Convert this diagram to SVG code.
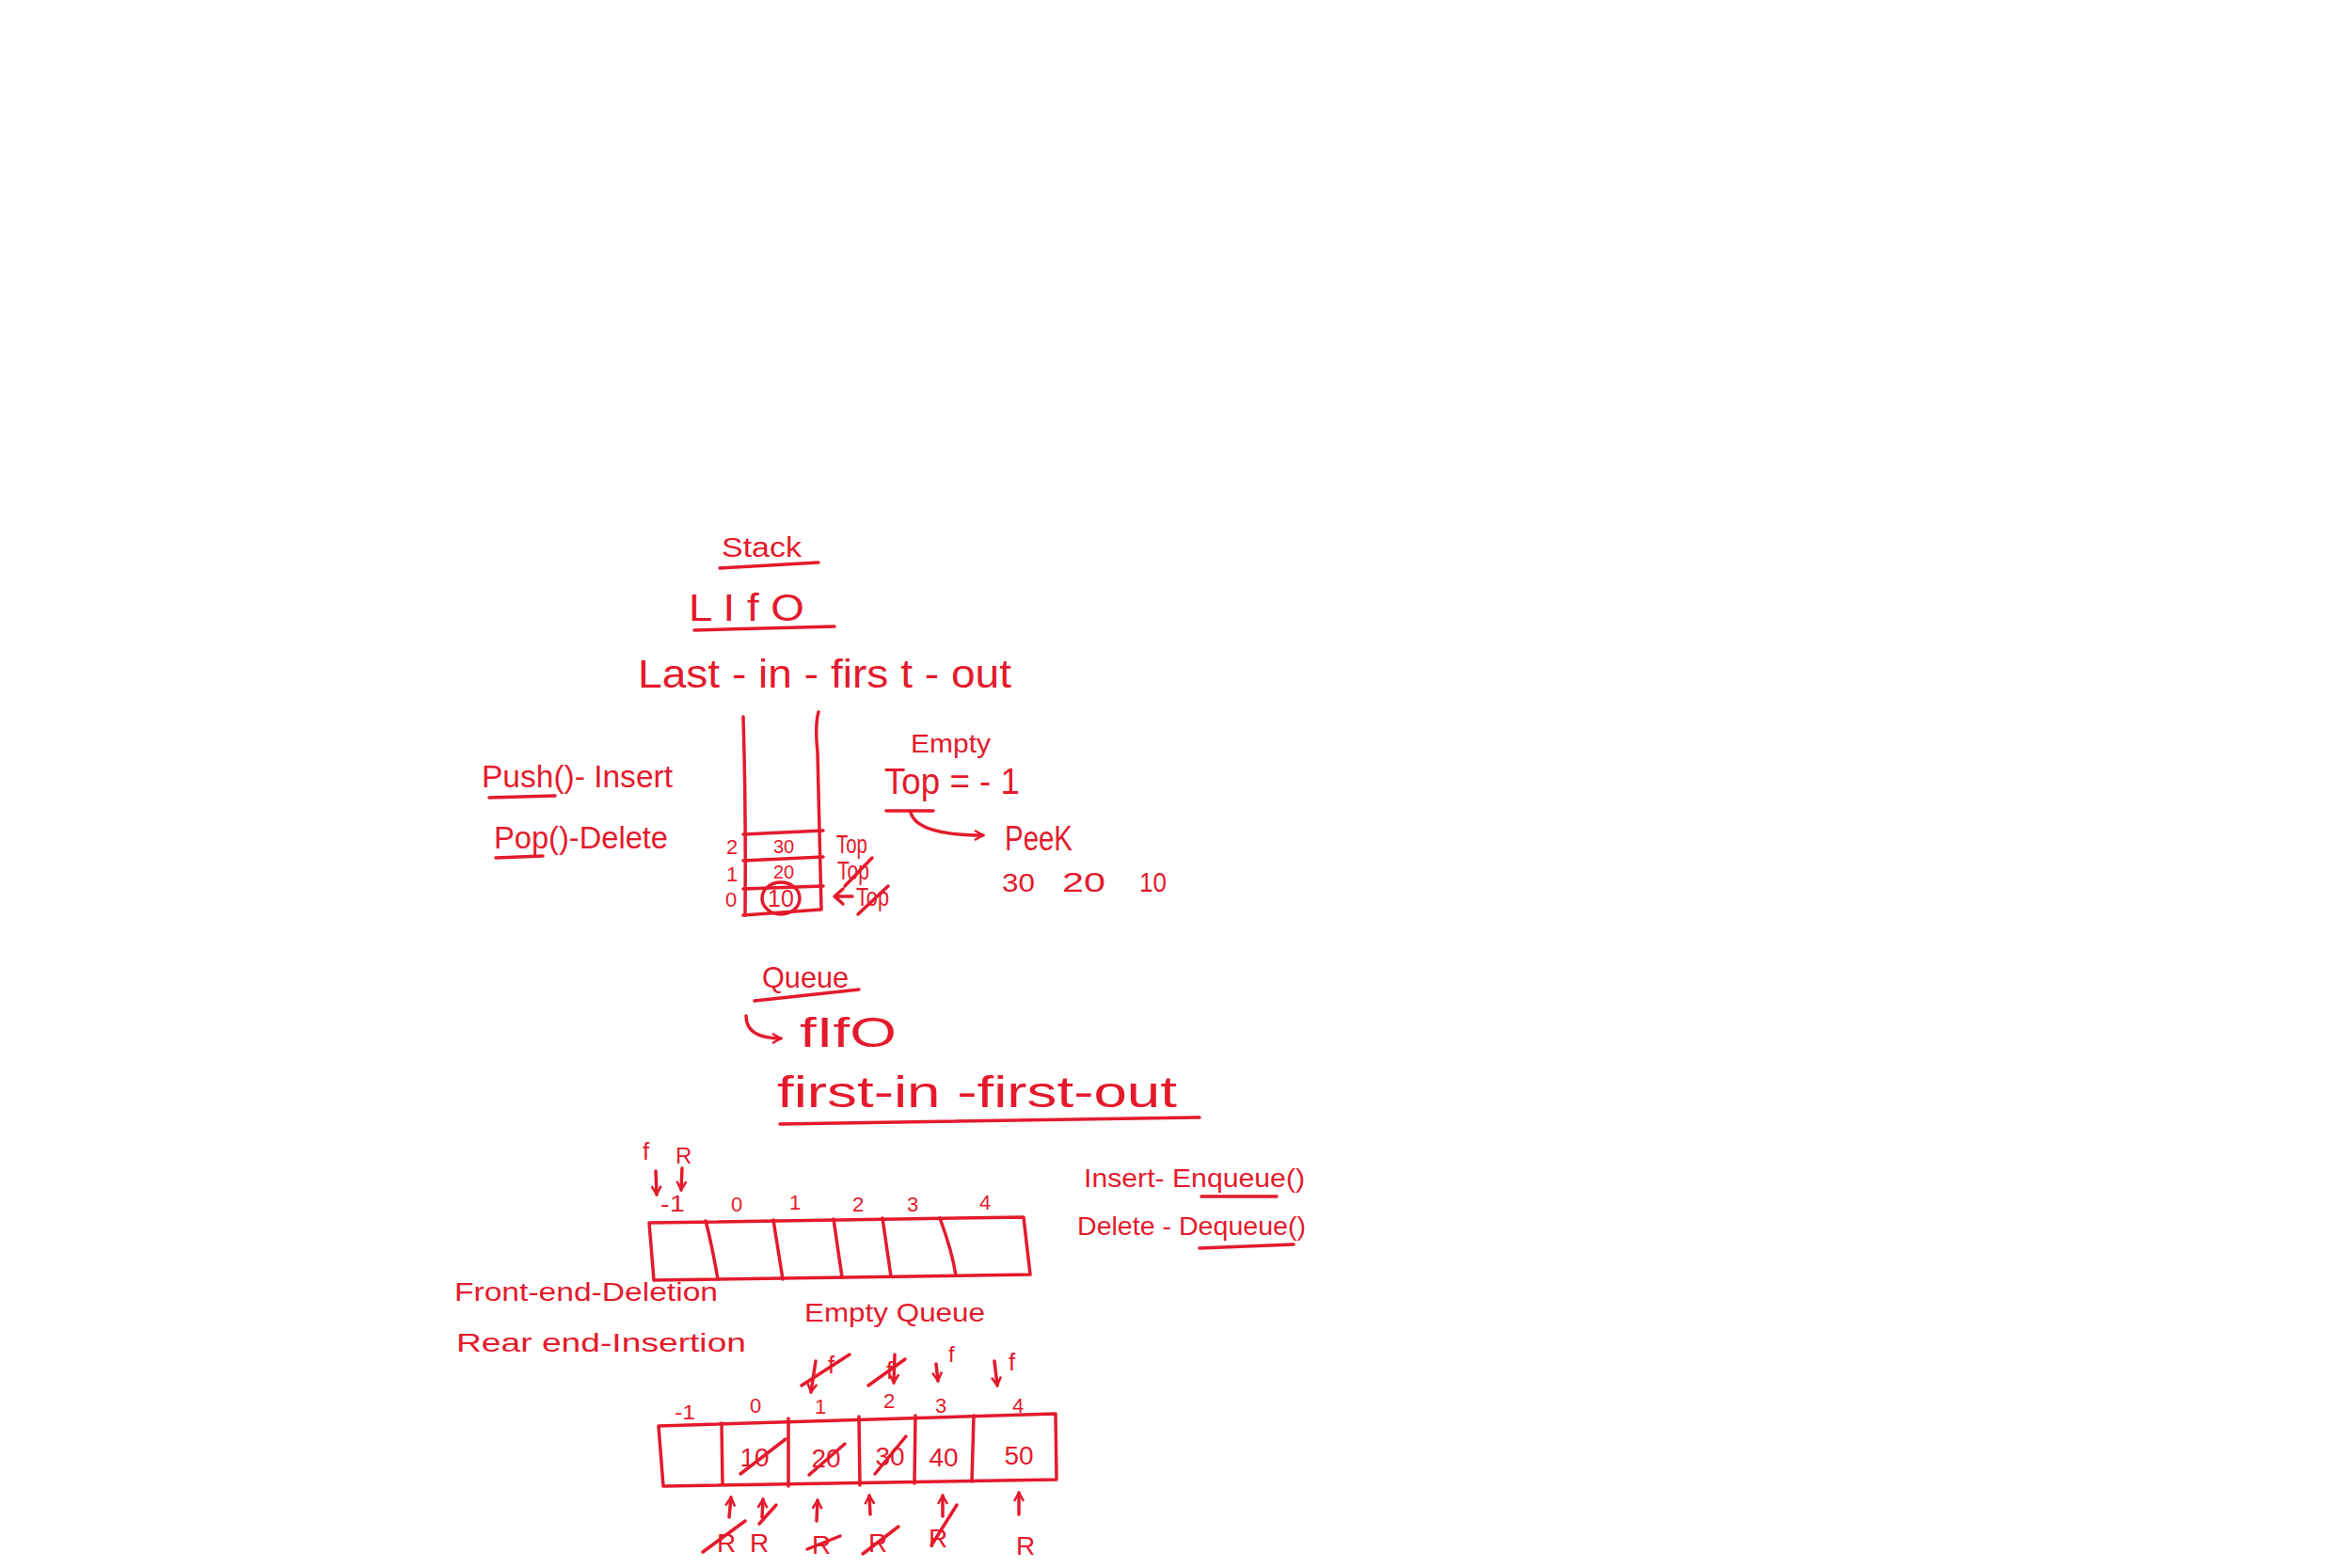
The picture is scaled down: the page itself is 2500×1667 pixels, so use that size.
<svg xmlns="http://www.w3.org/2000/svg" width="2500" height="1667" viewBox="0 0 2500 1667">
<style>
.t{font-family:"Liberation Sans","DejaVu Sans",sans-serif;fill:#e41a2c;}
.l{fill:none;stroke:#e41a2c;stroke-width:3.5;stroke-linecap:round;stroke-linejoin:round;}
</style>
<defs>
<marker id="ah" viewBox="0 0 12 12" refX="10" refY="6" markerWidth="12" markerHeight="12" markerUnits="userSpaceOnUse" orient="auto">
<path d="M1,1 L10,6 L1,11" fill="none" stroke="#e41a2c" stroke-width="2.5"/>
</marker>
</defs>
<rect width="2500" height="1667" fill="#fff"/>

<g id="stack-title">
<text class="t" x="767" y="592" font-size="30" textLength="85" lengthAdjust="spacingAndGlyphs">Stack</text>
<path class="l" d="M765,604 L870,598"/>
</g>
<g id="lifo">
<text class="t" x="732" y="660" font-size="40" textLength="123" lengthAdjust="spacingAndGlyphs">L I f O</text>
<path class="l" d="M738,670 L887,666"/>
</g>
<g id="lifo-full">
<text class="t" x="678" y="731" font-size="42" textLength="397" lengthAdjust="spacingAndGlyphs">Last - in - firs t - out</text>
</g>
<g id="push-pop">
<text class="t" x="512" y="837" font-size="34" textLength="203" lengthAdjust="spacingAndGlyphs">Push()- Insert</text>
<path class="l" d="M520,848 L590,846"/>
<text class="t" x="525" y="902" font-size="34" textLength="185" lengthAdjust="spacingAndGlyphs">Pop()-Delete</text>
<path class="l" d="M527,912 L577,910"/>
</g>
<g id="stack">
<path class="l" d="M790,762 Q793,860 792,973"/>
<path class="l" d="M870,757 Q866,770 869,800 L873,967"/>
<path class="l" d="M790,887 L875,883"/>
<path class="l" d="M790,915 L875,911"/>
<path class="l" d="M790,945 L875,942"/>
<path class="l" d="M790,973 L872,967"/>
<text class="t" x="772" y="908" font-size="22">2</text>
<text class="t" x="772" y="937" font-size="22">1</text>
<text class="t" x="771" y="964" font-size="22">0</text>
<text class="t" x="833" y="907" font-size="20" text-anchor="middle">30</text>
<text class="t" x="833" y="934" font-size="20" text-anchor="middle">20</text>
<text class="t" x="830" y="964" font-size="25" text-anchor="middle">10</text>
<ellipse class="l" cx="830" cy="955" rx="20" ry="17"/>
<text class="t" x="889" y="907" font-size="28" textLength="33" lengthAdjust="spacingAndGlyphs">Top</text>
<text class="t" x="890" y="935" font-size="28" textLength="34" lengthAdjust="spacingAndGlyphs">Top</text>
<path class="l" d="M898,942 L927,912"/>
<path class="l" d="M906,953 L888,953 M896,945 L887,953 L896,961"/>
<text class="t" x="910" y="963" font-size="28" textLength="35" lengthAdjust="spacingAndGlyphs">Top</text>
<path class="l" d="M912,972 L944,942"/>
</g>
<g id="empty">
<text class="t" x="968" y="800" font-size="28" textLength="85" lengthAdjust="spacingAndGlyphs">Empty</text>
<text class="t" x="940" y="844" font-size="38" textLength="144" lengthAdjust="spacingAndGlyphs">Top = - 1</text>
<path class="l" d="M942,862 L992,862"/>
</g>
<g id="peek">
<text class="t" x="1068" y="904" font-size="36" textLength="72" lengthAdjust="spacingAndGlyphs">PeeK</text>
<text class="t" x="1065" y="948" font-size="28" textLength="35" lengthAdjust="spacingAndGlyphs">30</text>
<text class="t" x="1129" y="948" font-size="30" textLength="46" lengthAdjust="spacingAndGlyphs">20</text>
<text class="t" x="1211" y="948" font-size="30" textLength="29" lengthAdjust="spacingAndGlyphs">10</text>
</g>
<g id="queue-title">
<text class="t" x="810" y="1050" font-size="32" textLength="92" lengthAdjust="spacingAndGlyphs">Queue</text>
<path class="l" d="M802,1064 L913,1052"/>
</g>
<g id="fifo">
<text class="t" x="850" y="1113" font-size="44" textLength="103" lengthAdjust="spacingAndGlyphs">fIfO</text>
</g>
<g id="fifo-full">
<text class="t" x="826" y="1177" font-size="46" textLength="425" lengthAdjust="spacingAndGlyphs">first-in -first-out</text>
<path class="l" d="M829,1195 L1275,1188"/>
</g>
<g id="queue1">
<text class="t" x="683" y="1233" font-size="26">f</text>
<text class="t" x="718" y="1237" font-size="24">R</text>
<text class="t" x="702" y="1288" font-size="24" textLength="26" lengthAdjust="spacingAndGlyphs">-1</text>
<text class="t" x="783" y="1288" font-size="22" text-anchor="middle">0</text>
<text class="t" x="845" y="1286" font-size="22" text-anchor="middle">1</text>
<text class="t" x="912" y="1288" font-size="22" text-anchor="middle">2</text>
<text class="t" x="970" y="1288" font-size="22" text-anchor="middle">3</text>
<text class="t" x="1047" y="1286" font-size="22" text-anchor="middle">4</text>
<path class="l" d="M690,1300 L1088,1294 L1095,1355 L695,1361 Z"/>
<path class="l" d="M750,1298 Q756,1320 763,1360"/>
<path class="l" d="M822,1297 L832,1360"/>
<path class="l" d="M886,1296 L895,1358"/>
<path class="l" d="M938,1295 L947,1357"/>
<path class="l" d="M999,1295 Q1012,1330 1016,1356"/>
</g>
<g id="enqueue">
<text class="t" x="1152" y="1262" font-size="28" textLength="235" lengthAdjust="spacingAndGlyphs">Insert- Enqueue()</text>
<path class="l" d="M1277,1272 L1357,1272"/>
<text class="t" x="1145" y="1313" font-size="28" textLength="243" lengthAdjust="spacingAndGlyphs">Delete - Dequeue()</text>
<path class="l" d="M1275,1327 L1375,1323"/>
</g>
<g id="front-rear">
<text class="t" x="483" y="1383" font-size="27" textLength="280" lengthAdjust="spacingAndGlyphs">Front-end-Deletion</text>
<text class="t" x="485" y="1437" font-size="28" textLength="308" lengthAdjust="spacingAndGlyphs">Rear end-Insertion</text>
</g>
<g id="queue2">
<text class="t" x="855" y="1405" font-size="28" textLength="192" lengthAdjust="spacingAndGlyphs">Empty Queue</text>
<path class="l" d="M700,1516 L1122,1503 L1123,1573 L705,1580 Z"/>
<path class="l" d="M767,1513 L768,1578"/>
<path class="l" d="M838,1508 L838,1580"/>
<path class="l" d="M913,1506 L914,1579"/>
<path class="l" d="M973,1505 L972,1577"/>
<path class="l" d="M1035,1505 L1033,1575"/>
<text class="t" x="717" y="1509" font-size="22" textLength="22" lengthAdjust="spacingAndGlyphs">-1</text>
<text class="t" x="803" y="1502" font-size="22" text-anchor="middle">0</text>
<text class="t" x="872" y="1503" font-size="22" text-anchor="middle">1</text>
<text class="t" x="945" y="1497" font-size="22" text-anchor="middle">2</text>
<text class="t" x="1000" y="1502" font-size="22" text-anchor="middle">3</text>
<text class="t" x="1082" y="1502" font-size="22" text-anchor="middle">4</text>
<text class="t" x="802" y="1559" font-size="28" text-anchor="middle">10</text>
<path class="l" d="M787,1567 L835,1530"/>
<text class="t" x="878" y="1560" font-size="28" text-anchor="middle">20</text>
<path class="l" d="M860,1568 L898,1535"/>
<text class="t" x="946" y="1558" font-size="28" text-anchor="middle">30</text>
<path class="l" d="M930,1567 L963,1527"/>
<text class="t" x="1003" y="1559" font-size="28" text-anchor="middle">40</text>
<text class="t" x="1083" y="1557" font-size="28" text-anchor="middle">50</text>
<text class="t" x="880" y="1460" font-size="26">f</text>
<path class="l" d="M852,1473 L903,1440"/>
<text class="t" x="942" y="1466" font-size="26">f</text>
<path class="l" d="M923,1473 L962,1445"/>
<text class="t" x="1008" y="1448" font-size="24">f</text>
<text class="t" x="1072" y="1457" font-size="26">f</text>
<text class="t" x="762" y="1650" font-size="28">R</text>
<path class="l" d="M747,1650 L792,1617"/>
<text class="t" x="797" y="1650" font-size="28">R</text>
<path class="l" d="M807,1620 L825,1600"/>
<text class="t" x="863" y="1652" font-size="28">R</text>
<path class="l" d="M858,1647 L893,1633"/>
<text class="t" x="923" y="1650" font-size="28">R</text>
<path class="l" d="M917,1652 L955,1623"/>
<text class="t" x="987" y="1645" font-size="28">R</text>
<path class="l" d="M990,1643 L1017,1600"/>
<text class="t" x="1080" y="1653" font-size="28">R</text>
</g>
<g id="connectors">
<path class="l" d="M968,864 Q975,888 1045,888" marker-end="url(#ah)"/>
<path class="l" d="M793,1080 Q793,1104 830,1104" marker-end="url(#ah)"/>
<path class="l" d="M697,1245 L698,1270" marker-end="url(#ah)"/>
<path class="l" d="M725,1242 L724,1265" marker-end="url(#ah)"/>
<path class="l" d="M867,1447 L862,1480" marker-end="url(#ah)"/>
<path class="l" d="M951,1440 L950,1470" marker-end="url(#ah)"/>
<path class="l" d="M995,1450 L997,1468" marker-end="url(#ah)"/>
<path class="l" d="M1057,1447 L1060,1473" marker-end="url(#ah)"/>
<path class="l" d="M775,1613 L777,1592" marker-end="url(#ah)"/>
<path class="l" d="M810,1613 L811,1594" marker-end="url(#ah)"/>
<path class="l" d="M868,1617 L869,1595" marker-end="url(#ah)"/>
<path class="l" d="M925,1610 L924,1590" marker-end="url(#ah)"/>
<path class="l" d="M1002,1612 L1002,1590" marker-end="url(#ah)"/>
<path class="l" d="M1083,1610 L1083,1587" marker-end="url(#ah)"/>
</g>
</svg>
